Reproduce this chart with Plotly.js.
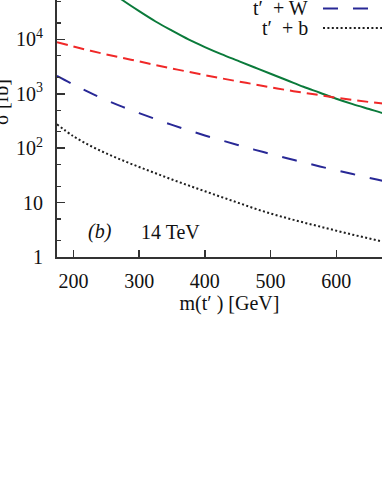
<!DOCTYPE html>
<html>
<head>
<meta charset="utf-8">
<script src="https://cdn.plot.ly/plotly-3.0.1.min.js"></script>
<style>
  html, body { margin: 0; padding: 0; background: #fff; overflow: hidden; width: 382px; height: 491px; }
  #myDiv { position: absolute; left: -10px; top: -73px; }
</style>
</head>
<body>
<div id="myDiv"></div>
<script>
  // masses of t' in GeV
  var mass = [175, 200, 225, 250, 275, 300, 325, 350, 375, 400, 425,
              450, 475, 500, 525, 550, 575, 600, 625, 650, 675, 700];

  // cross sections in fb
  var sigPair = [437000, 251000, 148000, 87100, 52500, 33100, 21400, 14500, 10000, 7240, 5370,
                 4070, 3090, 2340, 1780, 1350, 1050, 813, 646, 525, 427, 355];
  var sigTop  = [8910, 7410, 6240, 5310, 4570, 3940, 3390, 2920, 2540, 2210, 1930,
                 1700, 1500, 1320, 1170, 1050, 944, 851, 776, 708, 653, 603];
  var sigW    = [2140, 1480, 1050, 767, 575, 442, 343, 269, 214, 172, 140,
                 115, 94.4, 78.5, 65.3, 55.0, 46.2, 39.4, 33.5, 28.5, 24.5, 21.1];
  var sigB    = [275, 166, 112, 80.4, 59.6, 45.2, 34.7, 26.6, 20.7, 16.2, 12.7,
                 10.0, 7.85, 6.31, 5.19, 4.32, 3.63, 3.05, 2.57, 2.19, 1.86, 1.58];

  var yTickVals = [1, 10, 100, 1000, 10000];
  var yTickText = ['1', '10', '10<sup>2</sup>', '10<sup>3</sup>', '10<sup>4</sup>'];
  var yMinorVals = [2, 5, 20, 50, 200, 500, 2000, 5000, 20000, 50000, 200000];
  var xTickVals = [200, 300, 400, 500, 600];

  var serif = 'Liberation Serif, Times New Roman, serif';

  var pairTrace = {
    x: mass, y: sigPair, name: "t' t'", type: 'scatter', mode: 'lines',
    line: {color: 'rgb(10, 122, 58)', width: 2, shape: 'spline'}
  };
  var topTrace = {
    x: mass, y: sigTop, name: "t' + t", type: 'scatter', mode: 'lines',
    line: {color: 'rgb(240, 40, 40)', width: 2, dash: '11px,6px', shape: 'spline'}
  };
  var wTrace = {
    x: mass, y: sigW, name: "t' + W", type: 'scatter', mode: 'lines',
    line: {color: 'rgb(40, 40, 150)', width: 2, dash: '15px,15px', shape: 'spline'}
  };
  var bTrace = {
    x: mass, y: sigB, name: "t' + b", type: 'scatter', mode: 'lines',
    line: {color: 'rgb(30, 30, 30)', width: 2, dash: '2px,2.4px', shape: 'spline'}
  };

  var data = [pairTrace, topTrace, wTrace, bTrace];

  var layout = {
    width: 440, height: 390,
    margin: {l: 67, r: 28, t: 20, b: 60},
    showlegend: false,
    paper_bgcolor: '#fff', plot_bgcolor: '#fff',
    font: {family: serif, size: 20, color: '#111'},
    xaxis: {
      range: [175, 700],
      tickvals: xTickVals,
      ticks: 'inside', ticklen: 7, tickwidth: 1.5, tickcolor: '#333',
      showline: true, linecolor: '#333', linewidth: 2, mirror: false,
      showgrid: false, zeroline: false,
      ticklabelstandoff: 5,
      title: {text: 'm(t′ ) [GeV]', font: {family: serif, size: 20}, standoff: 4}
    },
    yaxis: {
      type: 'log', range: [0, 5.7],
      tickvals: yTickVals, ticktext: yTickText,
      ticks: 'inside', ticklen: 8, tickwidth: 1.5, tickcolor: '#333',
      minor: {tickvals: yMinorVals, ticks: 'inside', ticklen: 4, tickwidth: 1.2, tickcolor: '#333'},
      showline: true, linecolor: '#333', linewidth: 2, mirror: false,
      showgrid: false, zeroline: false,
      ticklabelstandoff: 8,
      title: {text: 'σ [fb]', font: {family: serif, size: 20}, standoff: 12}
    },
    annotations: [
      {x: 240, y: 0.46, xref: 'x', yref: 'y', text: '<i>(b)</i>', showarrow: false,
       font: {family: serif, size: 20}},
      {x: 348, y: 0.46, xref: 'x', yref: 'y', text: '14 TeV', showarrow: false,
       font: {family: serif, size: 20}},
      {x: 0.733, y: 0.802, xref: 'paper', yref: 'paper', xanchor: 'right', yanchor: 'middle',
       text: 't′  + W', showarrow: false, font: {family: serif, size: 20}},
      {x: 0.733, y: 0.740, xref: 'paper', yref: 'paper', xanchor: 'right', yanchor: 'middle',
       text: 't′  + b', showarrow: false, font: {family: serif, size: 20}}
    ],
    shapes: [
      {type: 'line', xref: 'paper', yref: 'paper', x0: 0.771, x1: 1.0, y0: 0.802, y1: 0.802,
       line: {color: 'rgb(40, 40, 150)', width: 2, dash: '15px,15px'}},
      {type: 'line', xref: 'paper', yref: 'paper', x0: 0.771, x1: 1.0, y0: 0.739, y1: 0.739,
       line: {color: 'rgb(30, 30, 30)', width: 2, dash: '2px,2.4px'}}
    ]
  };

  Plotly.newPlot('myDiv', data, layout, {displayModeBar: false, staticPlot: true});
</script>
</body>
</html>
